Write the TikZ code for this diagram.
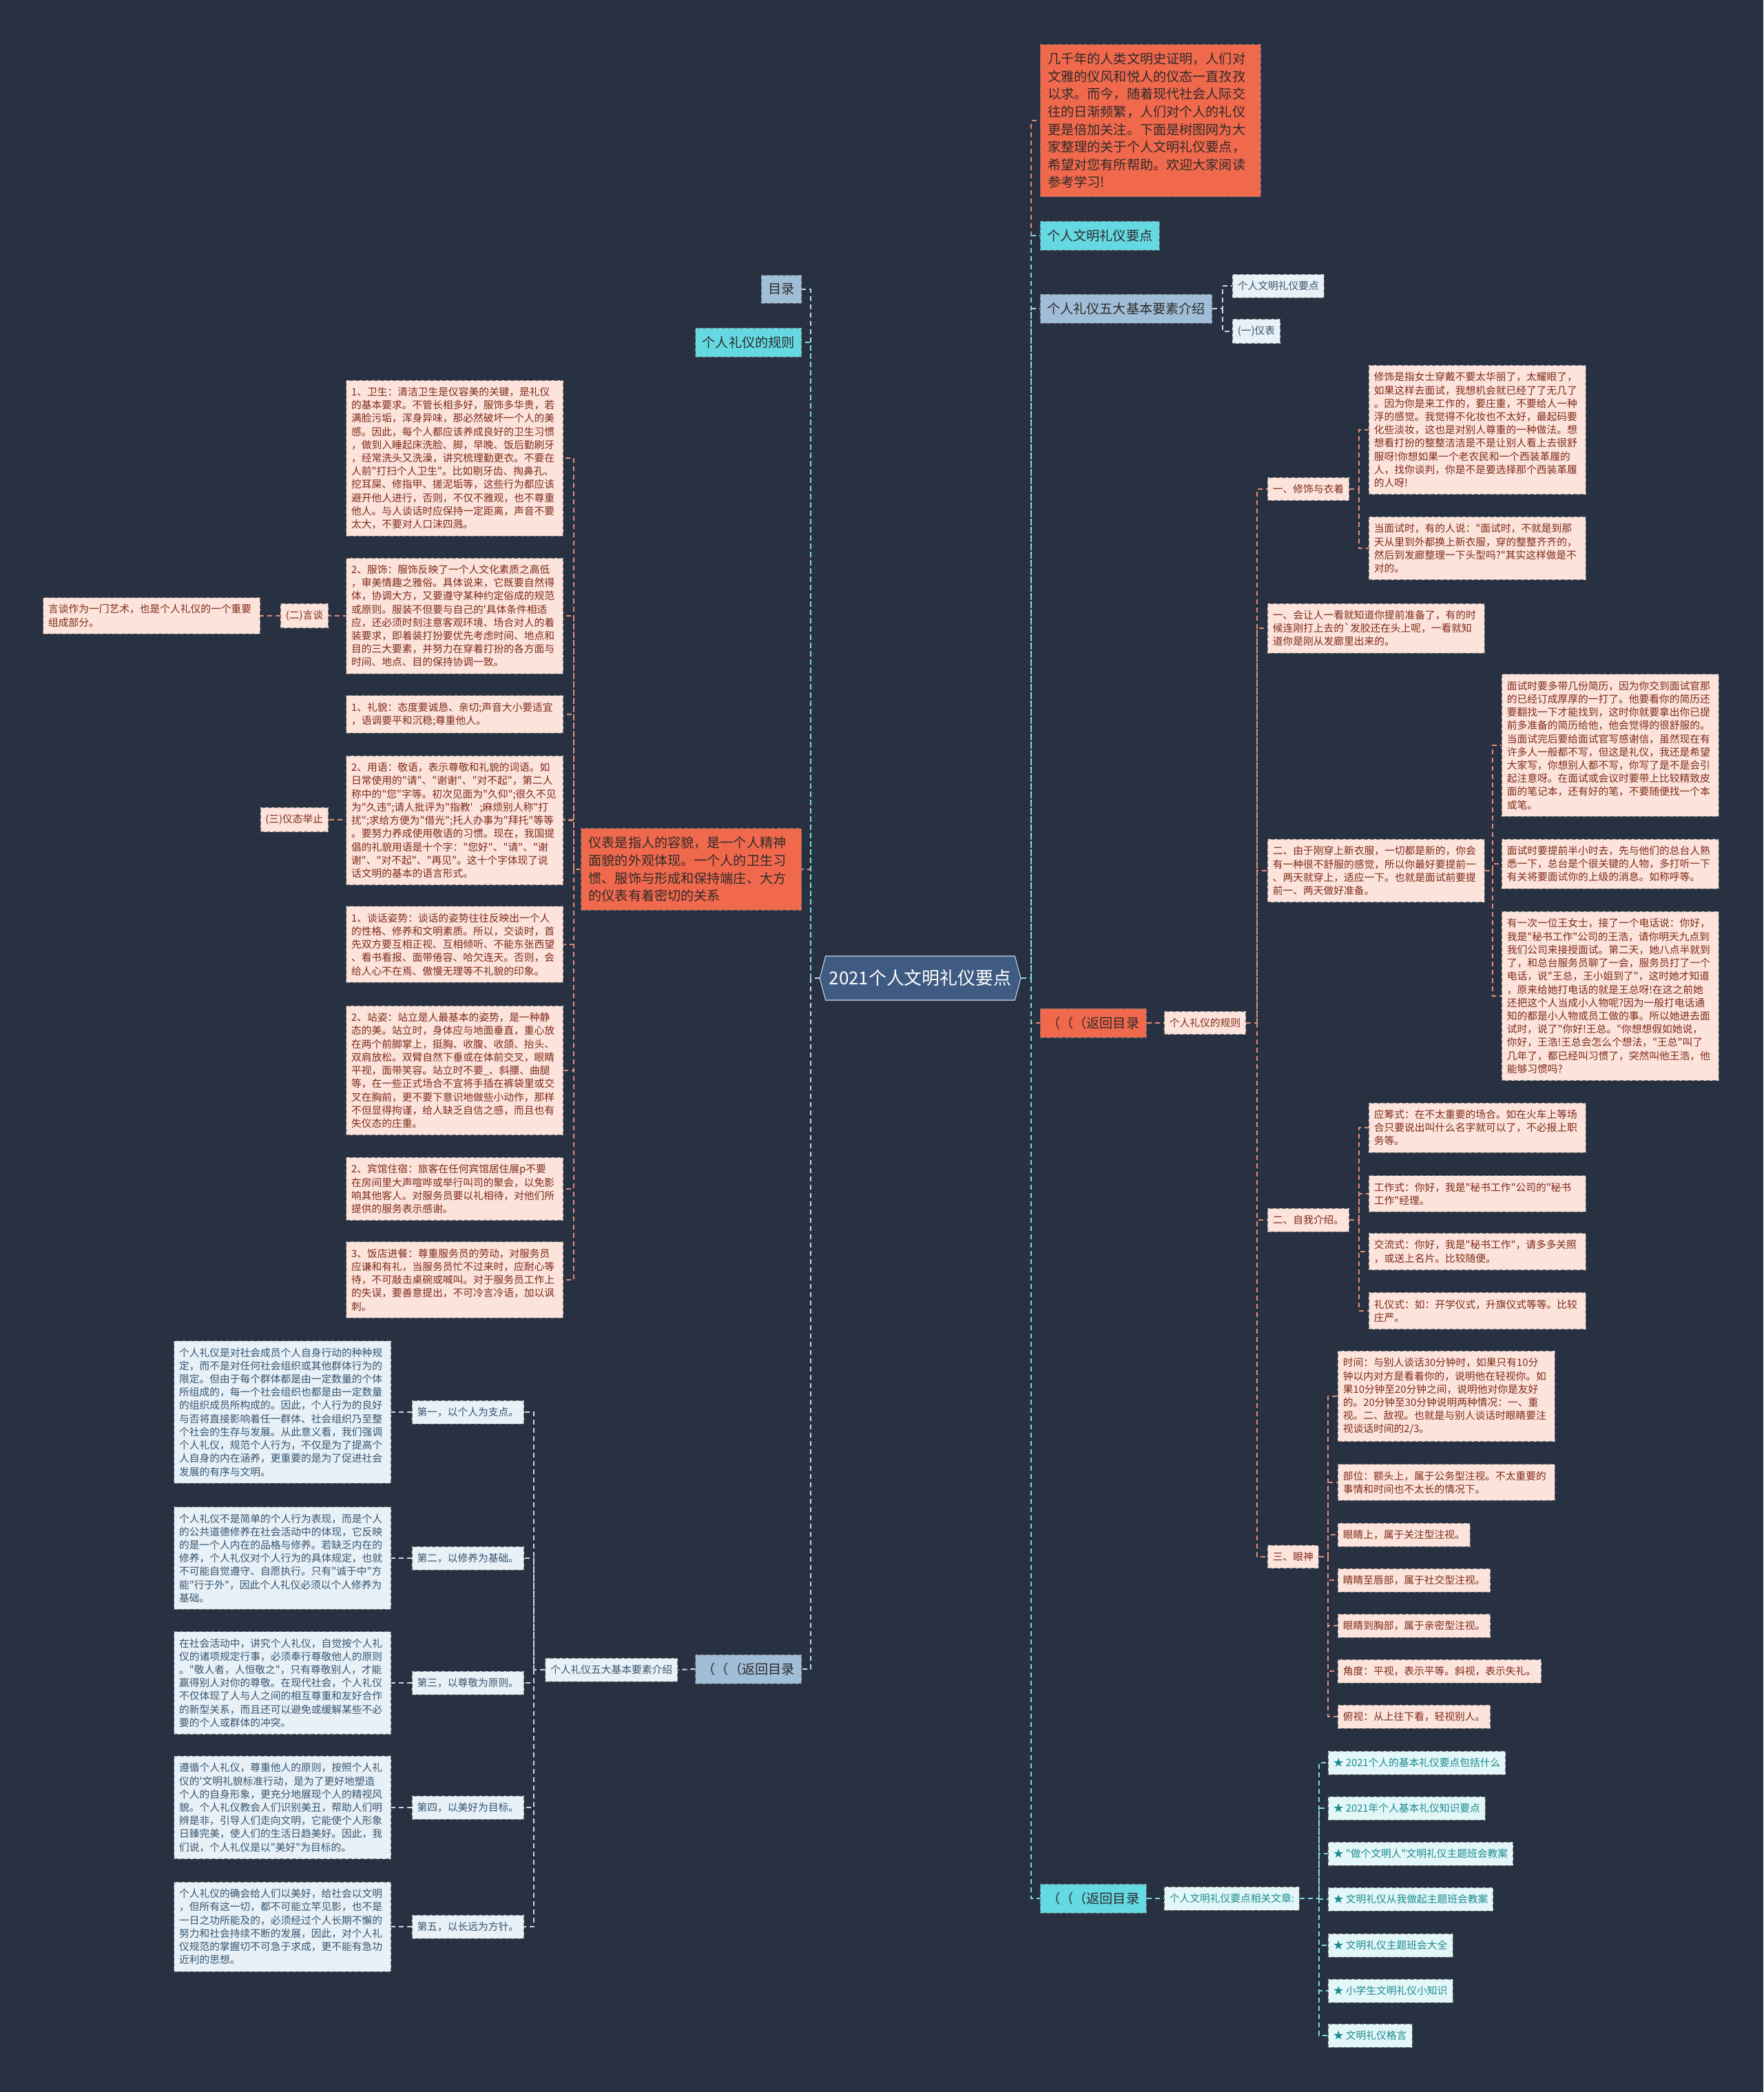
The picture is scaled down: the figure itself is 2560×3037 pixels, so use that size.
\documentclass[tikz,border=0pt]{standalone}
\usepackage{fontspec}
\setmainfont{Noto Sans CJK SC}[Ligatures=TeXOff]
\usetikzlibrary{positioning,shapes.symbols}
\pgfdeclarelayer{bgfill}
\pgfdeclarelayer{links}
\pgfsetlayers{bgfill,links,main}
\definecolor{bg}{HTML}{283142}
\definecolor{rootF}{HTML}{3F5B81}
\definecolor{orangeF}{HTML}{F0694C}
\definecolor{cyanF}{HTML}{64D9E2}
\definecolor{blueF}{HTML}{A0BED8}
\definecolor{salF}{HTML}{FCE4DD}
\definecolor{salT}{HTML}{7F2A17}
\definecolor{lbF}{HTML}{E8F1F7}
\definecolor{lbT}{HTML}{365470}
\definecolor{lcF}{HTML}{E4F7F8}
\definecolor{lcT}{HTML}{188A8F}
\definecolor{darkT}{HTML}{2E2A2A}
\definecolor{linkS}{HTML}{E38C76}
\definecolor{linkC}{HTML}{7CD8DF}
\definecolor{linkB}{HTML}{C8D8E6}
\newcommand{\leaffont}{\fontsize{8.39pt}{10.94pt}\selectfont}
\newcommand{\midfont}{\fontsize{10.88pt}{14.57pt}\selectfont}
\newcommand{\rootfont}{\fontsize{14.74pt}{17pt}\selectfont}

\begin{document}
\begin{tikzpicture}[x=0.2mm,y=-0.2mm,
  bx/.style={draw=black!55,line width=0.4pt,dash pattern=on 1.2mm off 0.6mm},
  lvO/.style={bx,fill=orangeF,text=darkT,font=\midfont,inner xsep=2mm,inner ysep=2.4mm},
  lvC/.style={bx,fill=cyanF,text=darkT,font=\midfont,inner xsep=2mm,inner ysep=2.4mm},
  lvB/.style={bx,fill=blueF,text=darkT,font=\midfont,inner xsep=2mm,inner ysep=2.4mm},
  tagS/.style={bx,fill=salF,text=salT,font=\leaffont,inner xsep=1.5mm,inner ysep=2mm},
  tagB/.style={bx,fill=lbF,text=lbT,font=\leaffont,inner xsep=1.5mm,inner ysep=2mm},
  tagC/.style={bx,fill=lcF,text=lcT,font=\leaffont,inner xsep=1.5mm,inner ysep=2mm},
  leafS/.style={tagS,text width=60mm,align=left},
  leafB/.style={tagB,text width=60mm,align=left},
  linkS/.style={draw=linkS,line width=0.4mm,dash pattern=on 1.4mm off 1mm},
  linkC/.style={draw=linkC,line width=0.4mm,dash pattern=on 1.4mm off 1mm},
  linkB/.style={draw=linkB,line width=0.4mm,dash pattern=on 1.4mm off 1mm}]
\useasboundingbox (0,0) rectangle (2560,3037);
\begin{pgfonlayer}{bgfill}
\fill[bg] (0,0) rectangle (2560,3037);
\end{pgfonlayer}

\node[shape=signal,signal to=east and west,signal pointer angle=150,fill=rootF,draw=white!75!rootF,line width=0.6pt,text=white,font=\rootfont,minimum width=58mm,minimum height=12.8mm,inner xsep=1mm] (root) at (1336,1420) {2021个人文明礼仪要点};

% right side
\node[lvO,anchor=west,text width=59.6mm,align=left,inner xsep=2.2mm] (intro) at (1510,175) {几千年的人类文明史证明，人们对\\
文雅的仪风和悦人的仪态一直孜孜\\
以求。而今，随着现代社会人际交\\
往的日渐频繁，人们对个人的礼仪\\
更是倍加关注。下面是树图网为大\\
家整理的关于个人文明礼仪要点，\\
希望对您有所帮助。欢迎大家阅读\\
参考学习!};
\node[lvC,anchor=west] (yaodian) at (1510,342) {个人文明礼仪要点};
\node[lvB,anchor=west] (wuda) at (1510,448) {个人礼仪五大基本要素介绍};
\node[tagB,anchor=west] (wudaA) at (1789,415) {个人文明礼仪要点};
\node[tagB,anchor=west] (wudaB) at (1789,481) {(一)仪表};
\node[lvO,anchor=west] (backA) at (1510,1485) {（（（返回目录};
\node[tagS,anchor=west] (rules) at (1690,1485) {个人礼仪的规则};

\node[tagS,anchor=west] (xiushi) at (1840,710) {一、修饰与衣着};
\node[leafS,anchor=west] (xiushiA) at (1987,624) {修饰是指女士穿戴不要太华丽了，太耀眼了，\\
如果这样去面试，我想机会就已经了了无几了\\
。因为你是来工作的，要庄重，不要给人一种\\
浮的感觉。我觉得不化妆也不太好，最起码要\\
化些淡妆，这也是对别人尊重的一种做法。想\\
想看打扮的整整洁洁是不是让别人看上去很舒\\
服呀!你想如果一个老农民和一个西装革履的\\
人，找你谈判，你是不是要选择那个西装革履\\
的人呀!};
\node[leafS,anchor=west] (xiushiB) at (1987,796) {当面试时，有的人说："面试时，不就是到那\\
天从里到外都换上新衣服，穿的整整齐齐的，\\
然后到发廊整理一下头型吗?"其实这样做是不\\
对的。};
\node[leafS,anchor=west] (huirang) at (1840,912) {一、会让人一看就知道你提前准备了，有的时\\
候连刚打上去的`发胶还在头上呢，一看就知\\
道你是刚从发廊里出来的。};
\node[leafS,anchor=west] (xinyi) at (1840,1264) {二、由于刚穿上新衣服，一切都是新的，你会\\
有一种很不舒服的感觉，所以你最好要提前一\\
、两天就穿上，适应一下。也就是面试前要提\\
前一、两天做好准备。};
\node[leafS,anchor=west] (xinyiA) at (2180,1082) {面试时要多带几份简历，因为你交到面试官那\\
的已经订成厚厚的一打了。他要看你的简历还\\
要翻找一下才能找到，这时你就要拿出你已提\\
前多准备的简历给他，他会觉得的很舒服的。\\
当面试完后要给面试官写感谢信，虽然现在有\\
许多人一般都不写，但这是礼仪，我还是希望\\
大家写，你想别人都不写，你写了是不是会引\\
起注意呀。在面试或会议时要带上比较精致皮\\
面的笔记本，还有好的笔，不要随便找一个本\\
或笔。};
\node[leafS,anchor=west] (xinyiB) at (2180,1254) {面试时要提前半小时去，先与他们的总台人熟\\
悉一下，总台是个很关键的人物，多打听一下\\
有关将要面试你的上级的消息。如称呼等。};
\node[leafS,anchor=west] (xinyiC) at (2180,1446) {有一次一位王女士，接了一个电话说：你好，\\
我是"秘书工作"公司的王浩，请你明天九点到\\
我们公司来接授面试。第二天，她八点半就到\\
了，和总台服务员聊了一会，服务员打了一个\\
电话，说"王总，王小姐到了"，这时她才知道\\
，原来给她打电话的就是王总呀!在这之前她\\
还把这个人当成小人物呢?因为一般打电话通\\
知的都是小人物或员工做的事。所以她进去面\\
试时，说了"你好!王总。"你想想假如她说，\\
你好，王浩!王总会怎么个想法，"王总"叫了\\
几年了，都已经叫习惯了，突然叫他王浩，他\\
能够习惯吗?};

\node[tagS,anchor=west] (ziwo) at (1840,1771) {二、自我介绍。};
\node[leafS,anchor=west] (ziwoA) at (1987,1637) {应筹式：在不太重要的场合。如在火车上等场\\
合只要说出叫什么名字就可以了，不必报上职\\
务等。};
\node[leafS,anchor=west] (ziwoB) at (1987,1733) {工作式：你好，我是"秘书工作"公司的"秘书\\
工作"经理。};
\node[leafS,anchor=west] (ziwoC) at (1987,1817) {交流式：你好，我是"秘书工作"，请多多关照\\
，或送上名片。比较随便。};
\node[leafS,anchor=west] (ziwoD) at (1987,1903) {礼仪式：如：开学仪式，升旗仪式等等。比较\\
庄严。};

\node[tagS,anchor=west] (yanshen) at (1840,2260) {三、眼神};
\node[leafS,anchor=west] (yanshenA) at (1942,2027) {时间：与别人谈话30分钟时，如果只有10分\\
钟以内对方是看着你的，说明他在轻视你。如\\
果10分钟至20分钟之间，说明他对你是友好\\
的。20分钟至30分钟说明两种情况：一、重\\
视。二、敌视。也就是与别人谈话时眼睛要注\\
视谈话时间的2/3。};
\node[leafS,anchor=west] (yanshenB) at (1942,2152) {部位：额头上，属于公务型注视。不太重要的\\
事情和时间也不太长的情况下。};
\node[tagS,anchor=west] (yanshenC) at (1942,2228) {眼睛上，属于关注型注视。};
\node[tagS,anchor=west] (yanshenD) at (1942,2294) {睛睛至唇部，属于社交型注视。};
\node[tagS,anchor=west] (yanshenE) at (1942,2360) {眼睛到胸部，属于亲密型注视。};
\node[tagS,anchor=west] (yanshenF) at (1942,2426) {角度：平视，表示平等。斜视，表示失礼。};
\node[tagS,anchor=west] (yanshenG) at (1942,2492) {俯视：从上往下看，轻视别人。};

\node[lvC,anchor=west] (backB) at (1510,2756) {（（（返回目录};
\node[tagC,anchor=west] (related) at (1690,2756) {个人文明礼仪要点相关文章:};
\node[tagC,anchor=west] (relA) at (1928,2559) {★ 2021个人的基本礼仪要点包括什么};
\node[tagC,anchor=west] (relB) at (1928,2625) {★ 2021年个人基本礼仪知识要点};
\node[tagC,anchor=west] (relC) at (1928,2691) {★ "做个文明人"文明礼仪主题班会教案};
\node[tagC,anchor=west] (relD) at (1928,2757) {★ 文明礼仪从我做起主题班会教案};
\node[tagC,anchor=west] (relE) at (1928,2824) {★ 文明礼仪主题班会大全};
\node[tagC,anchor=west] (relF) at (1928,2890) {★ 小学生文明礼仪小知识};
\node[tagC,anchor=west] (relG) at (1928,2955) {★ 文明礼仪格言};

% left side
\node[lvB,anchor=east] (mulu) at (1164,420) {目录};
\node[lvC,anchor=east] (rulesL) at (1164,497) {个人礼仪的规则};
\node[lvO,anchor=east,text width=59.6mm,align=left,inner xsep=2.2mm] (yibiao) at (1164,1262) {仪表是指人的容貌，是一个人精神\\
面貌的外观体现。一个人的卫生习\\
惯、服饰与形成和保持端庄、大方\\
的仪表有着密切的关系};
\node[leafS,anchor=east] (weisheng) at (818,665) {1、卫生：清洁卫生是仪容美的关键，是礼仪\\
的基本要求。不管长相多好，服饰多华贵，若\\
满脸污垢，浑身异味，那必然破坏一个人的美\\
感。因此，每个人都应该养成良好的卫生习惯\\
，做到入睡起床洗脸、脚，早晚、饭后勤刷牙\\
，经常洗头又洗澡，讲究梳理勤更衣。不要在\\
人前"打扫个人卫生"。比如剔牙齿、掏鼻孔、\\
挖耳屎、修指甲、搓泥垢等，这些行为都应该\\
避开他人进行，否则，不仅不雅观，也不尊重\\
他人。与人谈话时应保持一定距离，声音不要\\
太大，不要对人口沫四溅。};
\node[leafS,anchor=east] (fushi) at (818,894) {2、服饰：服饰反映了一个人文化素质之高低\\
，审美情趣之雅俗。具体说来，它既要自然得\\
体，协调大方，又要遵守某种约定俗成的规范\\
或原则。服装不但要与自己的'具体条件相适\\
应，还必须时刻注意客观环境、场合对人的着\\
装要求，即着装打扮要优先考虑时间、地点和\\
目的三大要素，并努力在穿着打扮的各方面与\\
时间、地点、目的保持协调一致。};
\node[leafS,anchor=east] (limao) at (818,1037) {1、礼貌：态度要诚恳、亲切;声音大小要适宜\\
，语调要平和沉稳;尊重他人。};
\node[leafS,anchor=east] (yongyu) at (818,1191) {2、用语：敬语，表示尊敬和礼貌的词语。如\\
日常使用的"请"、"谢谢"、"对不起"，第二人\\
称中的"您"字等。初次见面为"久仰";很久不见\\
为"久违";请人批评为"指教'~~;麻烦别人称"打\\
扰";求给方便为"借光";托人办事为"拜托"等等\\
。要努力养成使用敬语的习惯。现在，我国提\\
倡的礼貌用语是十个字："您好"、"请"、"谢\\
谢"、"对不起"、"再见"。这十个字体现了说\\
话文明的基本的语言形式。};
\node[leafS,anchor=east] (tanhua) at (818,1371) {1、谈话姿势：谈话的姿势往往反映出一个人\\
的性格、修养和文明素质。所以，交谈时，首\\
先双方要互相正视、互相倾听、不能东张西望\\
、看书看报、面带倦容、哈欠连天。否则，会\\
给人心不在焉、傲慢无理等不礼貌的印象。};
\node[leafS,anchor=east] (zhanzi) at (818,1554) {2、站姿：站立是人最基本的姿势，是一种静\\
态的美。站立时，身体应与地面垂直，重心放\\
在两个前脚掌上，挺胸、收腹、收颌、抬头、\\
双肩放松。双臂自然下垂或在体前交叉，眼睛\\
平视，面带笑容。站立时不要\_、斜腰、曲腿\\
等，在一些正式场合不宜将手插在裤袋里或交\\
叉在胸前，更不要下意识地做些小动作，那样\\
不但显得拘谨，给人缺乏自信之感，而且也有\\
失仪态的庄重。};
\node[leafS,anchor=east] (binguan) at (818,1726) {2、宾馆住宿：旅客在任何宾馆居住展p不要\\
在房间里大声喧哗或举行叫司的聚会，以免影\\
响其他客人。对服务员要以礼相待，对他们所\\
提供的服务表示感谢。};
\node[leafS,anchor=east] (fandian) at (818,1858) {3、饭店进餐：尊重服务员的劳动，对服务员\\
应谦和有礼，当服务员忙不过来时，应耐心等\\
待，不可敲击桌碗或喊叫。对于服务员工作上\\
的失误，要善意提出，不可冷言冷语，加以讽\\
刺。};
\node[tagS,anchor=east] (yantan) at (477,894) {(二)言谈};
\node[leafS,anchor=east] (yantanA) at (378,894) {言谈作为一门艺术，也是个人礼仪的一个重要\\
组成部分。};
\node[tagS,anchor=east] (yitai) at (477,1190) {(三)仪态举止};

\node[lvB,anchor=east] (backC) at (1164,2423) {（（（返回目录};
\node[tagB,anchor=east] (wudaL) at (984,2424) {个人礼仪五大基本要素介绍};
\node[tagB,anchor=east] (diyi) at (761,2050) {第一，以个人为支点。};
\node[tagB,anchor=east] (dier) at (761,2262) {第二，以修养为基础。};
\node[tagB,anchor=east] (disan) at (761,2443) {第三，以尊敬为原则。};
\node[tagB,anchor=east] (disi) at (761,2624) {第四，以美好为目标。};
\node[tagB,anchor=east] (diwu) at (761,2797) {第五，以长远为方针。};
\node[leafB,anchor=east] (diyiA) at (568,2050) {个人礼仪是对社会成员个人自身行动的种种规\\
定，而不是对任何社会组织或其他群体行为的\\
限定。但由于每个群体都是由一定数量的个体\\
所组成的，每一个社会组织也都是由一定数量\\
的组织成员所构成的。因此，个人行为的良好\\
与否将直接影响着任一群体、社会组织乃至整\\
个社会的生存与发展。从此意义看，我们强调\\
个人礼仪，规范个人行为，不仅是为了提高个\\
人自身的内在涵养，更重要的是为了促进社会\\
发展的有序与文明。};
\node[leafB,anchor=east] (dierA) at (568,2262) {个人礼仪不是简单的个人行为表现，而是个人\\
的公共道德修养在社会活动中的体现，它反映\\
的是一个人内在的品格与修养。若缺乏内在的\\
修养，个人礼仪对个人行为的具体规定，也就\\
不可能自觉遵守、自愿执行。只有"诚于中"方\\
能"行于外"，因此个人礼仪必须以个人修养为\\
基础。};
\node[leafB,anchor=east] (disanA) at (568,2443) {在社会活动中，讲究个人礼仪，自觉按个人礼\\
仪的诸项规定行事，必须奉行尊敬他人的原则\\
。"敬人者，人恒敬之"，只有尊敬别人，才能\\
赢得别人对你的尊敬。在现代社会，个人礼仪\\
不仅体现了人与人之间的相互尊重和友好合作\\
的新型关系，而且还可以避免或缓解某些不必\\
要的个人或群体的冲突。};
\node[leafB,anchor=east] (disiA) at (568,2624) {遵循个人礼仪，尊重他人的原则，按照个人礼\\
仪的'文明礼貌标准行动，是为了更好地塑造\\
个人的自身形象，更充分地展现个人的精视风\\
貌。个人礼仪教会人们识别美丑，帮助人们明\\
辨是非，引导人们走向文明，它能使个人形象\\
日臻完美，使人们的生活日趋美好。因此，我\\
们说，个人礼仪是以"美好"为目标的。};
\node[leafB,anchor=east] (diwuA) at (568,2797) {个人礼仪的确会给人们以美好，给社会以文明\\
，但所有这一切，都不可能立竿见影，也不是\\
一日之功所能及的，必须经过个人长期不懈的\\
努力和社会持续不断的发展，因此，对个人礼\\
仪规范的掌握切不可急于求成，更不能有急功\\
近利的思想。};

\begin{pgfonlayer}{links}
\coordinate (rBus) at (1497,1420);
\coordinate (lBus) at (1177,1420);
\draw[linkS] (root.east) -- (rBus) |- (intro.west) (rBus) |- (backA.west);
\draw[linkB] (rBus) |- (wuda.west);
\draw[linkC] (root.east) -- (rBus) |- (yaodian.west) (rBus) |- (backB.west);
\draw[linkB] (root.west) -- (lBus) |- (mulu.east) (lBus) |- (backC.east);
\draw[linkS] (lBus) |- (yibiao.east);
\draw[linkC] (lBus) |- (rulesL.east);

\coordinate (wudaBus) at (1775,448);
\draw[linkB] (wuda.east) -- (wudaBus) |- (wudaA.west) (wudaBus) |- (wudaB.west);
\draw[linkS] (backA.east) -- (rules.west);
\coordinate (rulesBus) at (1825,1485);
\draw[linkS] (rules.east) -- (rulesBus) |- (xiushi.west) (rulesBus) |- (huirang.west) (rulesBus) |- (xinyi.west) (rulesBus) |- (ziwo.west) (rulesBus) |- (yanshen.west);
\coordinate (xiushiBus) at (1973,710);
\draw[linkS] (xiushi.east) -- (xiushiBus) |- (xiushiA.west) (xiushiBus) |- (xiushiB.west);
\coordinate (xinyiBus) at (2167,1264);
\draw[linkS] (xinyi.east) -- (xinyiBus) |- (xinyiA.west) (xinyiBus) |- (xinyiB.west) (xinyiBus) |- (xinyiC.west);
\coordinate (ziwoBus) at (1973,1771);
\draw[linkS] (ziwo.east) -- (ziwoBus) |- (ziwoA.west) (ziwoBus) |- (ziwoB.west) (ziwoBus) |- (ziwoC.west) (ziwoBus) |- (ziwoD.west);
\coordinate (yanshenBus) at (1928,2260);
\draw[linkS] (yanshen.east) -- (yanshenBus) |- (yanshenA.west) (yanshenBus) |- (yanshenB.west) (yanshenBus) |- (yanshenC.west) (yanshenBus) |- (yanshenD.west) (yanshenBus) |- (yanshenE.west) (yanshenBus) |- (yanshenF.west) (yanshenBus) |- (yanshenG.west);
\draw[linkC] (backB.east) -- (related.west);
\coordinate (relBus) at (1915,2756);
\draw[linkC] (related.east) -- (relBus) |- (relA.west) (relBus) |- (relB.west) (relBus) |- (relC.west) (relBus) |- (relD.west) (relBus) |- (relE.west) (relBus) |- (relF.west) (relBus) |- (relG.west);

\coordinate (yibiaoBus) at (833,1262);
\draw[linkS] (yibiao.west) -- (yibiaoBus) |- (weisheng.east) (yibiaoBus) |- (fushi.east) (yibiaoBus) |- (limao.east) (yibiaoBus) |- (yongyu.east) (yibiaoBus) |- (tanhua.east) (yibiaoBus) |- (zhanzi.east) (yibiaoBus) |- (binguan.east) (yibiaoBus) |- (fandian.east);
\draw[linkS] (yibiaoBus) |- (yantan.east) (yibiaoBus) |- (yitai.east);
\draw[linkS] (yantan.west) -- (yantanA.east);
\draw[linkB] (backC.west) -- (wudaL.east);
\coordinate (wudaLBus) at (775,2424);
\draw[linkB] (wudaL.west) -- (wudaLBus) |- (diyi.east) (wudaLBus) |- (dier.east) (wudaLBus) |- (disan.east) (wudaLBus) |- (disi.east) (wudaLBus) |- (diwu.east);
\draw[linkB] (diyi.west) -- (diyiA.east) (dier.west) -- (dierA.east) (disan.west) -- (disanA.east) (disi.west) -- (disiA.east) (diwu.west) -- (diwuA.east);
\end{pgfonlayer}
\end{tikzpicture}
\end{document}
